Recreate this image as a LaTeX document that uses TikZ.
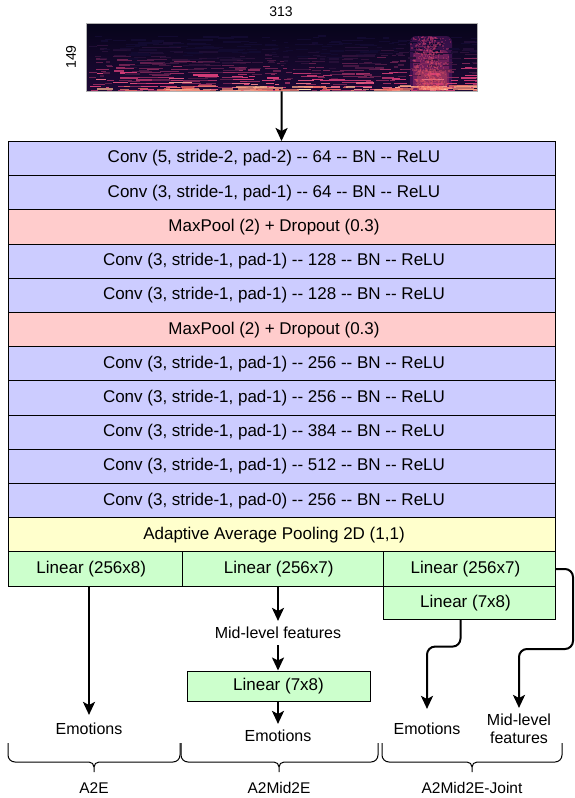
\documentclass[tikz,border=0pt]{standalone}
\usepackage{fontspec}
\setmainfont{Liberation Sans}
\usetikzlibrary{arrows.meta}
\definecolor{convc}{HTML}{CCCCFF}
\definecolor{poolc}{HTML}{FFCCCC}
\definecolor{avgc}{HTML}{FFFFCC}
\definecolor{linc}{HTML}{CCFFCC}
\definecolor{magA}{HTML}{120A30}
\definecolor{magB}{HTML}{721F81}
\definecolor{magC}{HTML}{D23B76}
\definecolor{magD}{HTML}{F1605D}
\definecolor{magE}{HTML}{FEE0A8}
\definecolor{specTop}{HTML}{06041A}
\definecolor{specBot}{HTML}{1E0936}
\newcommand\dd{-\kern0pt-}
\newcommand\mybrace[3]{%
  \draw[line width=1pt] (#1,743) -- (#1,755) to[out=-90,in=180] ({#1+7},762)
    -- ({#3-5},762) to[out=0,in=90] (#3,767) -- (#3,772) -- (#3,767)
    to[out=90,in=180] ({#3+5},762) -- ({#2-7},762) to[out=0,in=-90] (#2,755) -- (#2,743);}
\begin{document}
\begin{tikzpicture}[x=1pt,y=-1pt,
  every node/.style={font=\fontsize{16}{18}\selectfont},
  layer/.style={draw, line width=1pt, inner sep=0pt, minimum height=34.2pt, anchor=north west, font=\fontsize{17}{19}\selectfont},
  wide/.style={layer, minimum width=547pt, execute at end node=\hspace*{16pt}},
  lin/.style={layer, fill=linc, execute at end node=\hspace*{8pt}},
  arr/.style={line width=2pt, -{Stealth[length=13pt,width=12pt,inset=3pt]}},
  lbl/.style={inner xsep=2pt, inner ysep=6pt, align=center},
  grp/.style={font=\fontsize{15.5}{18}\selectfont},
  dim/.style={font=\fontsize{14}{16}\selectfont}]
\useasboundingbox (0,0) rectangle (574,798);

% spectrogram
\node[inner sep=0pt, minimum width=391pt, minimum height=68pt, anchor=north west] (spec) at (86,23) {};
\begin{scope}
  \clip (86,23) rectangle (477,91);
  \shade[top color=specTop, bottom color=specBot] (86,23) rectangle (477,91);
  \fill[magB, opacity=0.4, rounded corners=6pt] (410,36) rectangle (452,95);
  \fill[magC, opacity=0.35, rounded corners=6pt] (413,50) rectangle (449,95);
  \fill[magD, opacity=0.3, rounded corners=4pt] (417,70) rectangle (447,95);
  \pgfmathsetseed{17}
  \foreach \j in {0,...,34}{
    \pgfmathsetmacro{\segx}{84+11.5*\j+6*rnd}
    \pgfmathsetmacro{\segw}{7+20*rnd}
    \pgfmathsetmacro{\base}{0.55+0.55*rnd}
    \pgfmathsetmacro{\top}{9+7*rnd}
    \foreach \k in {0,...,15}{
      \pgfmathsetmacro{\sy}{90.5-\k*(3+0.6*rnd)-1.5*rnd}
      \pgfmathsetmacro{\sw}{\segw*(0.4+0.6*rnd)}
      \pgfmathsetmacro{\ti}{100*\base*max(0,1-\k/\top)^1.5*(0.3+0.7*rnd)}
      \pgfmathtruncatemacro{\pa}{min(100,2.4*\ti)}
      \pgfmathtruncatemacro{\pb}{max(0,min(100,1.7*(\ti-45)))}
      \colorlet{sc}{magC!\pa!magA}
      \colorlet{sc}{magE!\pb!sc}
      \fill[sc] (\segx+8*rnd,\sy) rectangle ++(\sw,1.2);
    }
  }
  \foreach \i in {1,...,90}{
    \pgfmathsetmacro{\sx}{86+391*rnd}
    \pgfmathsetmacro{\sy}{85+6*rnd}
    \pgfmathsetmacro{\slen}{3+22*rnd}
    \pgfmathtruncatemacro{\pb}{70*rnd}
    \colorlet{sc}{magE!\pb!magD}
    \fill[sc, opacity=0.75] (\sx,\sy) rectangle ++(\slen,1.4);
  }
  \foreach \i in {1,...,500}{
    \pgfmathsetmacro{\ru}{rnd}
    \pgfmathsetmacro{\sx}{410+40*(rnd+rnd)/2}
    \pgfmathsetmacro{\sy}{91-55*\ru}
    \pgfmathtruncatemacro{\pa}{100*(1-\ru)}
    \colorlet{sc}{magD!\pa!magC}
    \fill[sc, opacity=0.35] (\sx,\sy) rectangle ++(1.5,1.5);
  }
\end{scope}
\draw[gray!60, line width=0.6pt] (spec.north west) rectangle (spec.south east);
\node[dim] (n313) at (281,12) {313};
\node[dim, rotate=90] (n149) at (71,57) {149};
\draw[arr] (spec.south) -- (281.5,141);

% layers
\node[wide, fill=convc] (r1) at (8,141) {Conv (5, stride-2, pad-2) \dd{} 64 \dd{} BN \dd{} ReLU};
\node[wide, fill=convc] (r2) at (8,175.2) {Conv (3, stride-1, pad-1) \dd{} 64 \dd{} BN \dd{} ReLU};
\node[wide, fill=poolc] (r3) at (8,209.4) {MaxPool (2) + Dropout (0.3)};
\node[wide, fill=convc] (r4) at (8,243.6) {Conv (3, stride-1, pad-1) \dd{} 128 \dd{} BN \dd{} ReLU};
\node[wide, fill=convc] (r5) at (8,277.8) {Conv (3, stride-1, pad-1) \dd{} 128 \dd{} BN \dd{} ReLU};
\node[wide, fill=poolc] (r6) at (8,312) {MaxPool (2) + Dropout (0.3)};
\node[wide, fill=convc] (r7) at (8,346.2) {Conv (3, stride-1, pad-1) \dd{} 256 \dd{} BN \dd{} ReLU};
\node[wide, fill=convc] (r8) at (8,380.4) {Conv (3, stride-1, pad-1) \dd{} 256 \dd{} BN \dd{} ReLU};
\node[wide, fill=convc] (r9) at (8,414.6) {Conv (3, stride-1, pad-1) \dd{} 384 \dd{} BN \dd{} ReLU};
\node[wide, fill=convc] (r10) at (8,448.8) {Conv (3, stride-1, pad-1) \dd{} 512 \dd{} BN \dd{} ReLU};
\node[wide, fill=convc] (r11) at (8,483) {Conv (3, stride-1, pad-0) \dd{} 256 \dd{} BN \dd{} ReLU};
\node[wide, fill=avgc] (r12) at (8,517.2) {Adaptive Average Pooling 2D (1,1)};
\node[lin, minimum width=173.5pt] (la) at (8,551.4) {Linear (256x8)};
\node[lin, minimum width=201.5pt] (lb) at (181.5,551.4) {Linear (256x7)};
\node[lin, minimum width=172pt] (lc) at (383,551.4) {Linear (256x7)};
\node[lin, minimum width=172pt, minimum height=33pt] (ld) at (383,585.6) {Linear (7x8)};

% A2E
\node[lbl, inner ysep=8pt] (e1) at (89,729) {Emotions};
\draw[arr] (la.south -| e1.north) -- (e1.north);

% A2Mid2E
\node[lbl] (m2) at (278,633) {Mid-level features};
\node[layer, anchor=center, fill=linc, minimum width=183pt, minimum height=30pt] (l2) at (278.5,686) {Linear (7x8)};
\node[lbl] (e2) at (278,736) {Emotions};
\draw[arr] (lb.south -| m2.north) -- (m2.north);
\draw[arr] (m2.south) -- (l2.north -| m2.south);
\draw[arr] (l2.south -| e2.north) -- (e2.north);

% A2Mid2E-Joint
\node[lbl] (e3) at (427,729) {Emotions};
\node[lbl] (m3) at (519,729) {Mid-level\\features};
\draw[arr, rounded corners=8pt] ([xshift=-9pt]ld.south) -- ++(0,27) -| ([yshift=8pt]e3.north);
\draw[arr, rounded corners=8pt] (lc.east) -- ++(17,0) -- ++(0,80) -| (m3.north);

% braces
\mybrace{8}{180}{94}
\mybrace{181}{378}{279}
\mybrace{382}{562}{472}
\node[grp] (g1) at (94,788) {A2E};
\node[grp] (g2) at (279,788) {A2Mid2E};
\node[grp] (g3) at (472,788) {A2Mid2E-Joint};
\end{tikzpicture}
\end{document}
